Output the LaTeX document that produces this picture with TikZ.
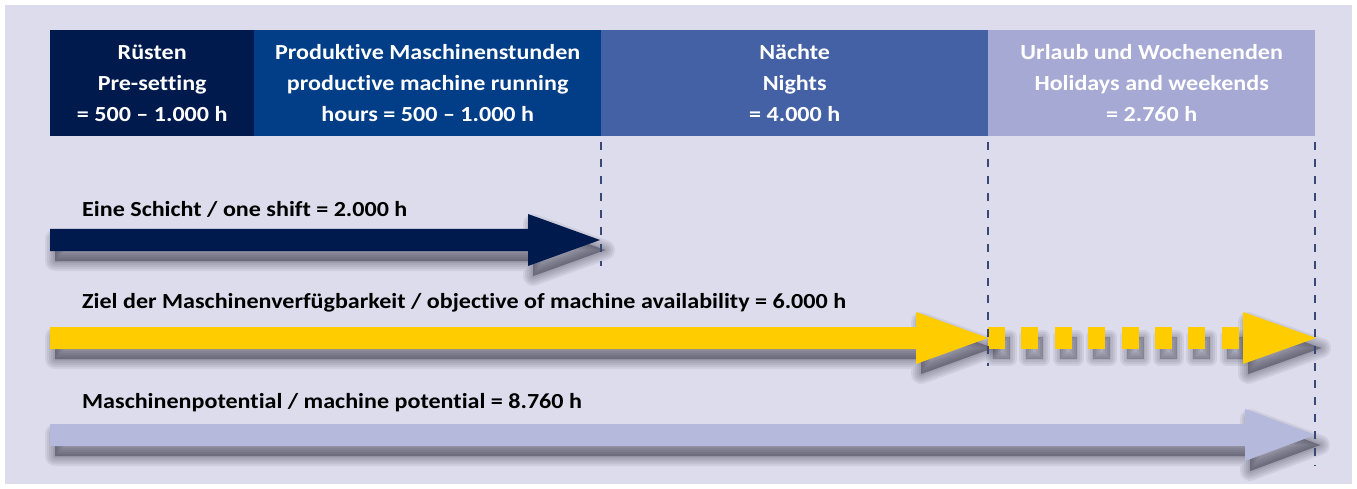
\documentclass[tikz,border=0pt]{standalone}
\usepackage{fontspec}
\setmainfont{Carlito}[FakeStretch=1.12, Ligatures={NoCommon}]
\definecolor{bg}{HTML}{DCDCEC}
\definecolor{cA}{HTML}{011A4D}
\definecolor{cB}{HTML}{023E87}
\definecolor{cC}{HTML}{4461A5}
\definecolor{cD}{HTML}{A6A9D3}
\definecolor{yel}{HTML}{FFCC00}
\definecolor{lav}{HTML}{B5B9DB}
\definecolor{dashc}{HTML}{3A4878}
\definecolor{shd}{HTML}{1A1A2A}
\newcommand\arrpath[4]{(#1,#4-11) -- (#2,#4-11) -- (#2,#4-26) -- (#3,#4) -- (#2,#4+26) -- (#2,#4+11) -- (#1,#4+11) -- cycle}
\newcommand\shadowit[1]{%
  \foreach \w in {20,16,12,8,4,0.5}{\path[fill=shd, draw=shd, fill opacity=0.07, draw opacity=0.07, line width=\w pt, line join=round, shift={(5,10)}] #1;}}
\begin{document}
\begin{tikzpicture}[x=1pt,y=-1pt,
  hdr/.style={text=white, font=\bfseries\fontsize{21.5}{31}\selectfont, align=center, inner sep=0pt, anchor=north west, minimum height=106pt},
  lbl/.style={anchor=west, text=black, font=\bfseries\fontsize{21.5}{24}\selectfont, inner sep=0pt},
  vdash/.style={draw=dashc, line width=1.3pt, dash pattern=on 8pt off 9pt}]
\useasboundingbox (0,0) rectangle (1357,489);
\fill[white] (0,0) rectangle (1357,489);
\fill[bg] (5,5) rectangle (1352,484);
% header
\node[hdr, fill=cA, minimum width=204pt] (h1) at (50,30) {Rüsten\\Pre-setting\\= 500 – 1.000 h};
\node[hdr, fill=cB, minimum width=347pt] (h2) at (254,30) {Produktive Maschinenstunden\\productive machine running\\hours = 500 – 1.000 h};
\node[hdr, fill=cC, minimum width=387pt] (h3) at (601,30) {Nächte\\Nights\\= 4.000 h};
\node[hdr, fill=cD, minimum width=327pt] (h4) at (988,30) {Urlaub und Wochenenden\\Holidays and weekends\\= 2.760 h};
% dashed guides
\coordinate (d1t) at (601,142); \coordinate (d1b) at (601,266);
\coordinate (d2t) at (988,142); \coordinate (d2b) at (988,366);
\coordinate (d3t) at (1315,142); \coordinate (d3b) at (1315,466);
% arrow 1
\shadowit{\arrpath{50}{528}{600}{240}}
\fill[cA] \arrpath{50}{528}{600}{240};
\node[lbl] (l1) at (82,209) {Eine Schicht / one shift = 2.000 h};
% arrow 2
\shadowit{\arrpath{50}{916}{988}{338}}
\foreach \i in {0,...,7}{\foreach \w in {14,10,6,2}{\path[fill=shd, fill opacity=0.07, draw=shd, draw opacity=0.07, line width=\w pt, line join=round] (988+\i*33.4+5,327+10) rectangle +(17,22);}}
\shadowit{\arrpath{1243}{1243}{1316}{338}}
\fill[yel] \arrpath{50}{916}{988}{338};
\foreach \i in {0,...,7}{\fill[yel] (988+\i*33.4,327) rectangle +(17,22);}
\fill[yel] \arrpath{1243}{1243}{1316}{338};
\node[lbl] (l2) at (82,303) {Ziel der Maschinenverfügbarkeit / objective of machine availability = 6.000 h};
% arrow 3
\shadowit{\arrpath{50}{1245}{1315}{435}}
\fill[lav] \arrpath{50}{1245}{1315}{435};
\node[lbl] (l3) at (82,403) {Maschinenpotential / machine potential = 8.760 h};
\draw[vdash] (d1t) -- (d1b);
\draw[vdash] (d2t) -- (d2b);
\draw[vdash] (d3t) -- (d3b);
\end{tikzpicture}
\end{document}
